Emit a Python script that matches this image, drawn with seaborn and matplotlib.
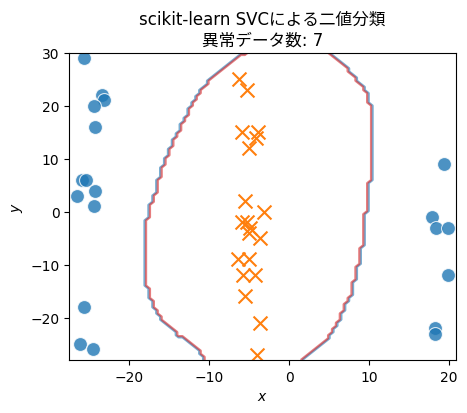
import numpy as np
import pandas as pd
import matplotlib
matplotlib.use("Agg")
import matplotlib.pyplot as plt
import seaborn as sns

# 異常データ (青丸)
anom_x = [-25.6, -23.45, -23.1, -24.45, -24.3, -25.95, -25.45, -24.25, -26.5, -24.45,
          -25.6, -26.15, -24.5,
          19.34, 17.87, 18.4, 19.84, 19.84, 18.3, 18.2]
anom_y = [29, 22, 21, 20, 16, 6, 6, 4, 3, 1,
          -18, -25, -26,
          9, -1, -3, -3, -12, -22, -23]

# 正常データ (オレンジ x)
norm_x = [-6.25, -5.2, -5.9, -3.9, -4.1, -5.04, -5.5, -3.1, -5.9, -5.25,
          -4.9, -5.04, -3.6, -6.4, -5.04, -5.8, -4.2, -5.5, -3.66, -4.07]
norm_y = [25, 23, 15, 15, 14, 12, 2, 0, -2, -2,
          -3, -4, -5, -9, -9, -12, -12, -16, -21, -27]

# 決定境界: y ごとの左端・右端
bnd_y = [30, 28, 25.5, 22.5, 19, 14.5, 10.5, 7, 3, 0, -3.5, -8, -12.5, -16, -20, -23, -26, -28]
bnd_left = [-5.5, -7.6, -9.5, -11.2, -12.6, -14.1, -15.3, -16.2, -16.8, -17.6,
            -18.0, -18.0, -18.0, -17.4, -16.2, -14.1, -11.5, -10.5]
bnd_right = [4.9, 6.8, 8.2, 9.7, 10.3, 10.5, 10.4, 10.2, 9.9, 9.6,
             9.5, 9.0, 8.3, 7.6, 6.4, 5.3, 3.4, 1.7]

n_anomaly = 7

df = pd.DataFrame({
    "x": anom_x + norm_x,
    "y": anom_y + norm_y,
    "label": ["anomaly"] * len(anom_x) + ["normal"] * len(norm_x),
})

x_min, x_max = df["x"].min() - 1, df["x"].max() + 1
y_min, y_max = df["y"].min() - 1, df["y"].max() + 1
xx, yy = np.meshgrid(np.linspace(x_min, x_max, 100), np.linspace(y_min, y_max, 100))

# グリッド上の予測 (境界の内側 = 正常)
left = np.interp(yy, bnd_y[::-1], bnd_left[::-1])
right = np.interp(yy, bnd_y[::-1], bnd_right[::-1])
Z = ((xx > left) & (xx < right)).astype(int)

fig, ax = plt.subplots(figsize=(4.67, 4.14), dpi=100)
fig.subplots_adjust(left=0.148, right=0.976, bottom=0.128, top=0.870)

ax.contour(xx, yy, Z, levels=[0.3, 0.7], colors=["tab:blue", "tab:red"],
           alpha=0.6, linewidths=1.6)
sns.scatterplot(data=df[df.label == "anomaly"], x="x", y="y", color="#1f77b4", s=100,
                alpha=0.8, edgecolor="w", ax=ax)
sns.scatterplot(data=df[df.label == "normal"], x="x", y="y", color="#ff7f0e", marker="x",
                s=100, linewidth=1.5, ax=ax)

ax.set_xlim(x_min, x_max)
ax.set_ylim(y_min, y_max)
ax.set_xlabel(r"$x$")
ax.set_ylabel(r"$y$")
ax.set_title(f"scikit-learn SVCによる二値分類\n異常データ数: {n_anomaly}",
             family=["DejaVu Sans", "Noto Sans CJK JP"])

fig.savefig("out.png", dpi=100)
